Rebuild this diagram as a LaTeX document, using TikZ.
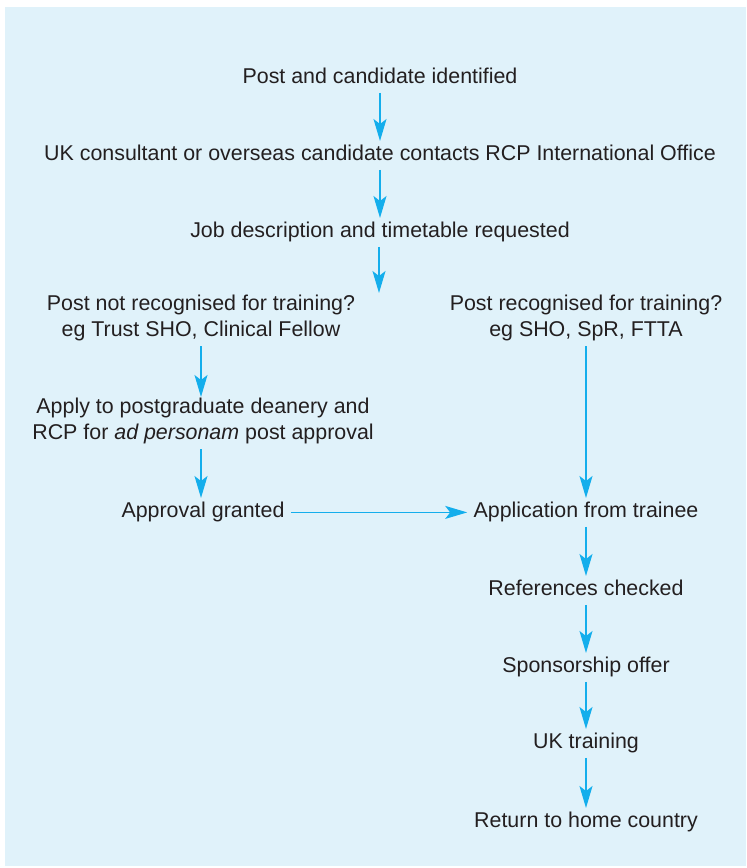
\documentclass[tikz,border=0pt]{standalone}
\usepackage{fontspec}
\setmainfont{Liberation Sans}
\usepackage{xcolor}
\usetikzlibrary{arrows.meta}
\usetikzlibrary{positioning}

\definecolor{panel}{RGB}{224,242,250}
\definecolor{flowblue}{RGB}{20,174,236}
\definecolor{ink}{RGB}{35,31,32}

\tikzset{
  stage/.style={anchor=north, align=center, text=ink, inner xsep=3pt, inner ysep=0.5pt,
    font=\fontsize{10.7}{13}\selectfont,
    execute at begin node=\strut, execute at end node=\strut},
  flow/.style={draw=flowblue, line width=0.65pt,
    -{Stealth[length=11pt, width=6.5pt, inset=2.5pt]}}
}

\begin{document}
\begin{tikzpicture}[x=0.5pt, y=-0.5pt]
\useasboundingbox (0,0) rectangle (746,868);
\fill[panel] (5,7) rectangle (746,866);

% main line
\node[stage] (post)    at (380,64)  {Post and candidate identified};
\node[stage] (contact) at (380,141) {UK consultant or overseas candidate contacts RCP International Office};
\node[stage] (jobdesc) at (380,218) {Job description and timetable requested};
\coordinate (split) at (379,293);

% not recognised
\node[stage] (notrec)  at (201,294) {Post not recognised for training?\\eg Trust SHO, Clinical Fellow};
\node[stage] (apply)   at (203,397) {Apply to postgraduate deanery and\\RCP for \textit{ad personam} post approval};
\node[stage] (granted) at (203,498) {Approval granted};

% recognised
\node[stage] (rec)     at (586,294) {Post recognised for training?\\eg SHO, SpR, FTTA};
\node[stage] (appl)    at (586,498) {Application from trainee};
\node[stage] (refs)    at (586,576) {References checked};
\node[stage] (sponsor) at (586,653) {Sponsorship offer};
\node[stage] (uktrain) at (586,729) {UK training};
\node[stage] (home)    at (586,808) {Return to home country};

\draw[flow] (post) -- (contact);
\draw[flow] (contact) -- (jobdesc);
\draw[flow] (jobdesc.south -| split) -- (split);

\draw[flow] (notrec.south) -- (notrec.south |- apply.north);
\draw[flow] (apply.south -| notrec.south) -- (notrec.south |- granted.north);
\draw[flow] (granted) -- (appl);

\draw[flow] (rec) -- (appl);
\draw[flow] (appl) -- (refs);
\draw[flow] (refs) -- (sponsor);
\draw[flow] (sponsor) -- (uktrain);
\draw[flow] (uktrain) -- (home);

\end{tikzpicture}
\end{document}
